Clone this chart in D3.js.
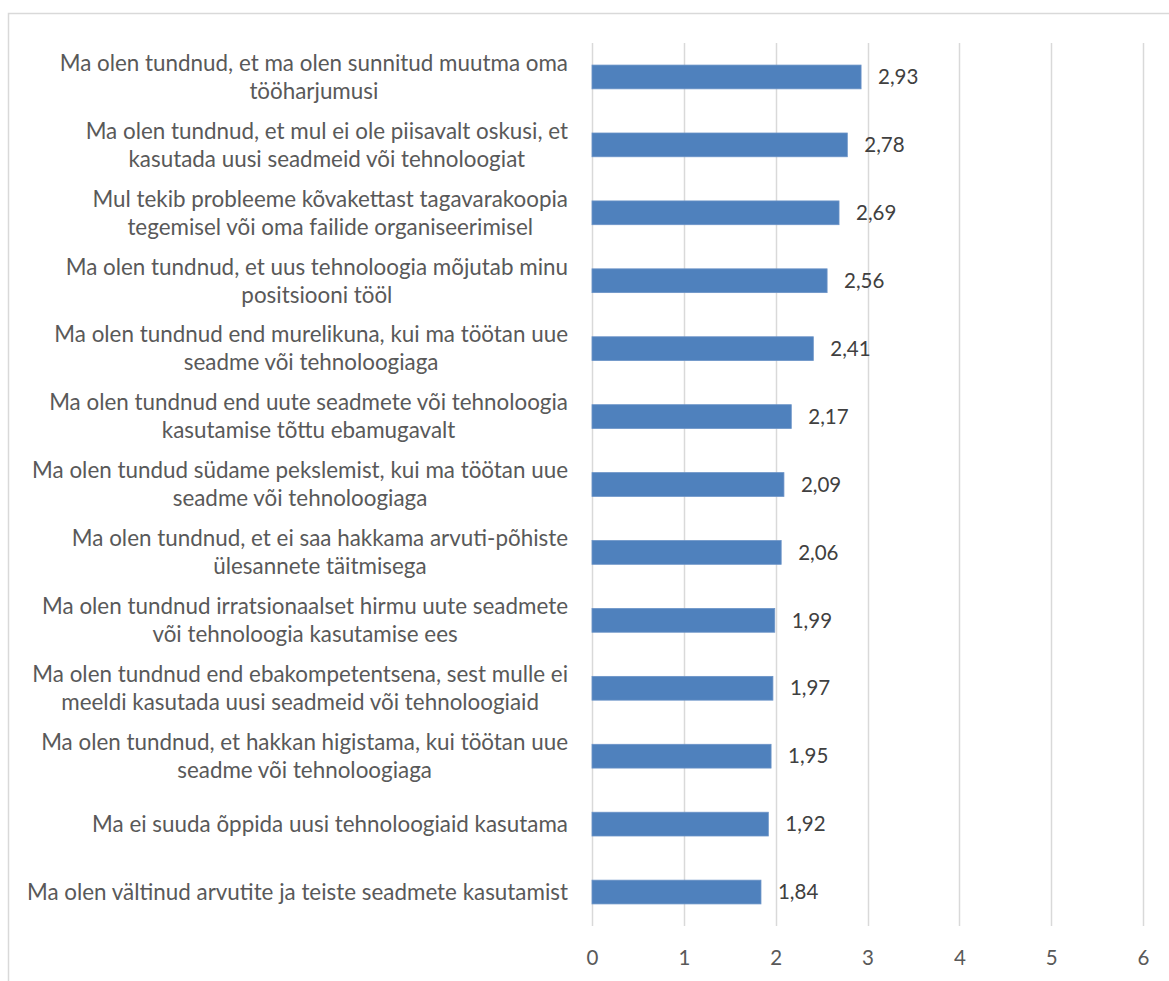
<!DOCTYPE html>
<html>
<head>
<meta charset="utf-8">
<script src="https://cdn.jsdelivr.net/npm/d3@7/dist/d3.min.js"></script>
<style>
  html, body { margin: 0; padding: 0; background: #fff; }
  svg { display: block; }
  text { font-family: Lato, "Open Sans", sans-serif; }
</style>
</head>
<body>
<svg id="chart" width="1169" height="981"></svg>
<script>
// Survey statements (line breaks mark where each label wraps)
const categories = [
  "Ma olen tundnud, et ma olen sunnitud muutma oma\ntööharjumusi",
  "Ma olen tundnud, et mul ei ole piisavalt oskusi, et\nkasutada uusi seadmeid või tehnoloogiat",
  "Mul tekib probleeme kõvakettast tagavarakoopia\ntegemisel või oma failide organiseerimisel",
  "Ma olen tundnud, et uus tehnoloogia mõjutab minu\npositsiooni tööl",
  "Ma olen tundnud end murelikuna, kui ma töötan uue\nseadme või tehnoloogiaga",
  "Ma olen tundnud end uute seadmete või tehnoloogia\nkasutamise tõttu ebamugavalt",
  "Ma olen tundud südame pekslemist, kui ma töötan uue\nseadme või tehnoloogiaga",
  "Ma olen tundnud, et ei saa hakkama arvuti-põhiste\nülesannete täitmisega",
  "Ma olen tundnud irratsionaalset hirmu uute seadmete\nvõi tehnoloogia kasutamise ees",
  "Ma olen tundnud end ebakompetentsena, sest mulle ei\nmeeldi kasutada uusi seadmeid või tehnoloogiaid",
  "Ma olen tundnud, et hakkan higistama, kui töötan uue\nseadme või tehnoloogiaga",
  "Ma ei suuda õppida uusi tehnoloogiaid kasutama",
  "Ma olen vältinud arvutite ja teiste seadmete kasutamist"
];
// Mean scores
const values = [2.93, 2.78, 2.69, 2.56, 2.41, 2.17, 2.09, 2.06, 1.99, 1.97, 1.95, 1.92, 1.84];
// Axis ticks
const xTicks = [0, 1, 2, 3, 4, 5, 6];

const data = categories.map((c, i) => ({ label: c, value: values[i] }));

const svg = d3.select("#chart");
const fmt = d3.formatLocale({ decimal: ",", thousands: " ", grouping: [3], currency: ["", "€"] }).format(".2f");

// Chart frame
svg.append("rect")
  .attr("x", 8.5).attr("y", 13.5)
  .attr("width", 1200).attr("height", 1000)
  .attr("fill", "#fff").attr("stroke", "#d9d9d9").attr("stroke-width", 1.5);

const x = d3.scaleLinear().domain([0, 6]).range([592, 1143]);
const y = d3.scaleBand().domain(categories).range([43, 926]).paddingInner(0.65).paddingOuter(0.325);

// Vertical gridlines
svg.append("g").selectAll("line").data(xTicks).join("line")
  .attr("x1", d => Math.round(x(d)) + 0.5).attr("x2", d => Math.round(x(d)) + 0.5)
  .attr("y1", 43).attr("y2", 926)
  .attr("stroke", "#d9d9d9").attr("stroke-width", 1.5);

// X axis tick labels
const xAxis = d3.axisBottom(x).tickValues(xTicks).tickSize(0).tickPadding(0).tickFormat(d3.format("d"));
const gx = svg.append("g").attr("transform", "translate(0,958)").call(xAxis);
gx.select(".domain").remove();
gx.selectAll("text")
  .attr("dy", "0.35em")
  .attr("fill", "#595959")
  .style("font-size", "20.5px")
  .style("font-family", "Lato, 'Open Sans', sans-serif");

// Bars
svg.append("g").selectAll("rect").data(data).join("rect")
  .attr("x", x(0))
  .attr("y", d => y(d.label))
  .attr("width", d => x(d.value) - x(0))
  .attr("height", y.bandwidth())
  .attr("fill", "#4f81bd")
  .attr("stroke", "#6b93c7").attr("stroke-width", 0.8);

// Value labels
svg.append("g").selectAll("text").data(data).join("text")
  .attr("x", d => x(d.value) + 17)
  .attr("y", d => y(d.label) + y.bandwidth() / 2)
  .attr("dy", "0.35em")
  .attr("fill", "#404040")
  .style("font-size", "20.5px")
  .text(d => fmt(d.value));

// Category labels: each wrapped block right-aligned, lines centered inside it
const rightEdge = 568;
const lineH = 28;
const labels = svg.append("g").selectAll("g").data(data).join("g");
labels.each(function (d) {
  const g = d3.select(this);
  const lines = d.label.split("\n");
  const cy = y(d.label) + y.bandwidth() / 2;
  const texts = lines.map((ln, i) => g.append("text")
    .attr("y", cy + (i - (lines.length - 1) / 2) * lineH)
    .attr("dy", "0.35em")
    .attr("fill", "#595959")
    .style("font-size", "22.4px")
    .attr("text-anchor", "middle")
    .text(ln));
  const w = d3.max(texts, t => t.node().getComputedTextLength());
  texts.forEach(t => t.attr("x", rightEdge - w / 2));
});
</script>
</body>
</html>
